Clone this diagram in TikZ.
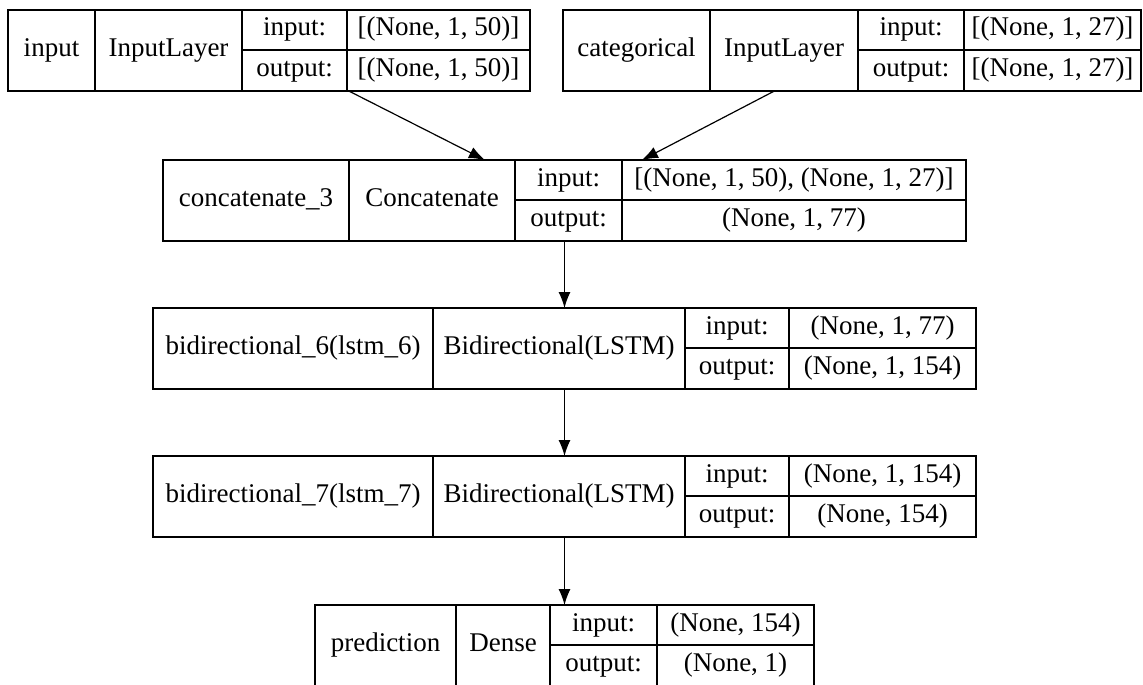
\documentclass[tikz,border=0pt]{standalone}
\usepackage{fontspec}
\setmainfont{Liberation Serif}
\usetikzlibrary{arrows.meta,positioning,fit}

\begin{document}
\begin{tikzpicture}[x=1pt,y=-1pt,>={Latex[length=16pt,width=12pt]},
    cell/.style={draw,line width=1.2pt,inner sep=0pt,outer sep=0pt,anchor=north west,
      font=\fontsize{27}{30}\selectfont,text height=18pt,text depth=6pt},
    full/.style={minimum height=81},
    upper/.style={minimum height=40},
    lower/.style={minimum height=41},
    layer/.style={inner sep=0pt,outer sep=0pt},
    link/.style={->,line width=1.2pt}]
    \fill[white] (0,0) rectangle (1143,685);
    \useasboundingbox (0,0) rectangle (1143,685);
    % input
    \node[cell,full,minimum width=87] (inp-n) at (8,10) {input};
    \node[cell,full,minimum width=147] (inp-c) at (inp-n.north east) {InputLayer};
    \node[cell,upper,minimum width=105] (inp-i) at (inp-c.north east) {input:};
    \node[cell,lower,minimum width=105] (inp-o) at (inp-i.south west) {output:};
    \node[cell,upper,minimum width=183] (inp-iv) at (inp-i.north east) {[(None, 1, 50)]};
    \node[cell,lower,minimum width=183] (inp-ov) at (inp-iv.south west) {[(None, 1, 50)]};
    \node[layer,fit=(inp-n)(inp-ov)] (inp) {};
    % categorical
    \node[cell,full,minimum width=147] (cat-n) at (563,10) {categorical};
    \node[cell,full,minimum width=148] (cat-c) at (cat-n.north east) {InputLayer};
    \node[cell,upper,minimum width=106] (cat-i) at (cat-c.north east) {input:};
    \node[cell,lower,minimum width=106] (cat-o) at (cat-i.south west) {output:};
    \node[cell,upper,minimum width=177] (cat-iv) at (cat-i.north east) {[(None, 1, 27)]};
    \node[cell,lower,minimum width=177] (cat-ov) at (cat-iv.south west) {[(None, 1, 27)]};
    \node[layer,fit=(cat-n)(cat-ov)] (cat) {};
    % concatenate
    \node[cell,full,minimum width=186] (con-n) at (163,160) {concatenate\_3};
    \node[cell,full,minimum width=166] (con-c) at (con-n.north east) {Concatenate};
    \node[cell,upper,minimum width=107] (con-i) at (con-c.north east) {input:};
    \node[cell,lower,minimum width=107] (con-o) at (con-i.south west) {output:};
    \node[cell,upper,minimum width=344] (con-iv) at (con-i.north east) {[(None, 1, 50), (None, 1, 27)]};
    \node[cell,lower,minimum width=344] (con-ov) at (con-iv.south west) {(None, 1, 77)};
    \node[layer,fit=(con-n)(con-ov)] (con) {};
    % bidirectional 6
    \node[cell,full,minimum width=280] (bi6-n) at (153,308) {bidirectional\_6(lstm\_6)};
    \node[cell,full,minimum width=252] (bi6-c) at (bi6-n.north east) {Bidirectional(LSTM)};
    \node[cell,upper,minimum width=104] (bi6-i) at (bi6-c.north east) {input:};
    \node[cell,lower,minimum width=104] (bi6-o) at (bi6-i.south west) {output:};
    \node[cell,upper,minimum width=187] (bi6-iv) at (bi6-i.north east) {(None, 1, 77)};
    \node[cell,lower,minimum width=187] (bi6-ov) at (bi6-iv.south west) {(None, 1, 154)};
    \node[layer,fit=(bi6-n)(bi6-ov)] (bi6) {};
    % bidirectional 7
    \node[cell,full,minimum width=280] (bi7-n) at (153,456) {bidirectional\_7(lstm\_7)};
    \node[cell,full,minimum width=252] (bi7-c) at (bi7-n.north east) {Bidirectional(LSTM)};
    \node[cell,upper,minimum width=104] (bi7-i) at (bi7-c.north east) {input:};
    \node[cell,lower,minimum width=104] (bi7-o) at (bi7-i.south west) {output:};
    \node[cell,upper,minimum width=187] (bi7-iv) at (bi7-i.north east) {(None, 1, 154)};
    \node[cell,lower,minimum width=187] (bi7-ov) at (bi7-iv.south west) {(None, 154)};
    \node[layer,fit=(bi7-n)(bi7-ov)] (bi7) {};
    % prediction
    \node[cell,full,minimum width=141] (pred-n) at (315,605) {prediction};
    \node[cell,full,minimum width=94] (pred-c) at (pred-n.north east) {Dense};
    \node[cell,upper,minimum width=107] (pred-i) at (pred-c.north east) {input:};
    \node[cell,lower,minimum width=107] (pred-o) at (pred-i.south west) {output:};
    \node[cell,upper,minimum width=157] (pred-iv) at (pred-i.north east) {(None, 154)};
    \node[cell,lower,minimum width=157] (pred-ov) at (pred-iv.south west) {(None, 1)};
    \node[layer,fit=(pred-n)(pred-ov)] (pred) {};
    % edges
    \draw[link] (inp) -- (con);
    \draw[link] (cat) -- (con);
    \draw[link] (con) -- (bi6);
    \draw[link] (bi6) -- (bi7);
    \draw[link] (bi7) -- (pred);
\end{tikzpicture}
\end{document}
